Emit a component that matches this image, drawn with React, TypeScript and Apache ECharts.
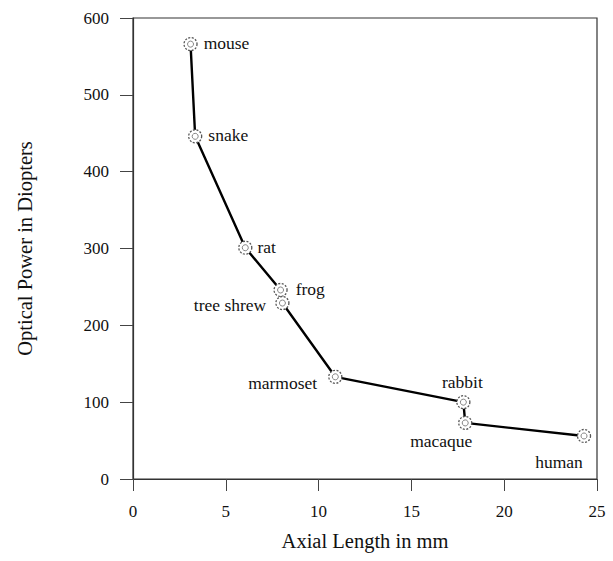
import React, { useEffect, useRef } from "react";
import * as echarts from "echarts";

const animals = ["mouse", "snake", "rat", "frog", "tree shrew", "marmoset", "rabbit", "macaque", "human"];
const axialLength = [3.1, 3.35, 6.05, 7.95, 8.05, 10.9, 17.8, 17.9, 24.3];
const opticalPower = [566, 446, 301, 246, 229, 133, 100, 73, 56];
const xTicks = [0, 5, 10, 15, 20, 25];
const yTicks = [0, 100, 200, 300, 400, 500, 600];

const FONT = "Liberation Serif";

type LabelCfg = { position: string; offset: [number, number] };
const labelCfg: Record<string, LabelCfg> = {
  mouse: { position: "right", offset: [1, -1] },
  snake: { position: "right", offset: [1, -1] },
  rat: { position: "right", offset: [0, -1] },
  frog: { position: "right", offset: [3, -1] },
  "tree shrew": { position: "left", offset: [-4, 2] },
  marmoset: { position: "left", offset: [-6, 6] },
  rabbit: { position: "top", offset: [-1, 1] },
  macaque: { position: "bottom", offset: [-24, -3] },
  human: { position: "bottom", offset: [-25, 5] },
};

export default function App() {
  const ref = useRef<HTMLDivElement>(null);
  useEffect(() => {
    if (!ref.current) return;
    const chart = echarts.init(ref.current, undefined, { renderer: "svg" });
    const pts = animals.map((a, i) => [axialLength[i], opticalPower[i], a]);
    chart.setOption({
      animation: false,
      backgroundColor: "#ffffff",
      grid: { left: 133, right: 16, top: 18, bottom: 82, show: true, borderColor: "#333", borderWidth: 1.2, backgroundColor: "transparent" },
      xAxis: {
        type: "value",
        min: xTicks[0],
        max: xTicks[xTicks.length - 1],
        interval: 5,
        name: "Axial Length in mm",
        nameLocation: "middle",
        nameGap: 51,
        nameTextStyle: { fontFamily: FONT, fontSize: 20.5, color: "#111" },
        axisLine: { show: true, lineStyle: { color: "#333", width: 1.2 } },
        axisTick: { show: true, inside: false, length: 12, lineStyle: { color: "#444" } },
        axisLabel: { fontFamily: FONT, fontSize: 17, color: "#111", margin: 24 },
        splitLine: { show: false },
      },
      yAxis: {
        type: "value",
        min: yTicks[0],
        max: yTicks[yTicks.length - 1],
        interval: 100,
        name: "Optical Power in Diopters",
        nameLocation: "middle",
        nameGap: 98,
        nameRotate: 90,
        nameTextStyle: { fontFamily: FONT, fontSize: 20.5, color: "#111" },
        axisLine: { show: true, lineStyle: { color: "#333", width: 1.2 } },
        axisTick: { show: true, inside: false, length: 13, lineStyle: { color: "#444" } },
        axisLabel: { fontFamily: FONT, fontSize: 17, color: "#111", margin: 24 },
        splitLine: { show: false },
      },
      series: [
        {
          type: "line",
          data: pts,
          symbol: "none",
          lineStyle: { color: "#000", width: 2.4 },
          z: 1,
        },
        {
          type: "scatter",
          data: pts.map((p) => {
            const c = labelCfg[p[2] as string];
            return {
              value: p,
              label: { show: true, position: c.position, offset: c.offset },
            };
          }),
          symbol: "circle",
          symbolSize: 13,
          itemStyle: { color: "#fff", borderColor: "#555", borderWidth: 1.3, borderType: [2, 1.5], opacity: 1 },
          label: {
            show: true,
            formatter: (p: any) => p.value[2],
            fontFamily: FONT,
            fontSize: 17.5,
            color: "#111",
          },
          z: 2,
        },
        {
          type: "scatter",
          data: pts,
          symbol: "circle",
          symbolSize: 6,
          itemStyle: { color: "#fff", borderColor: "#666", borderWidth: 1 },
          z: 3,
          silent: true,
        },
      ],
    });
    return () => chart.dispose();
  }, []);
  return <div ref={ref} style={{ position: "fixed", left: 0, top: 0, width: 613, height: 561 }} />;
}
